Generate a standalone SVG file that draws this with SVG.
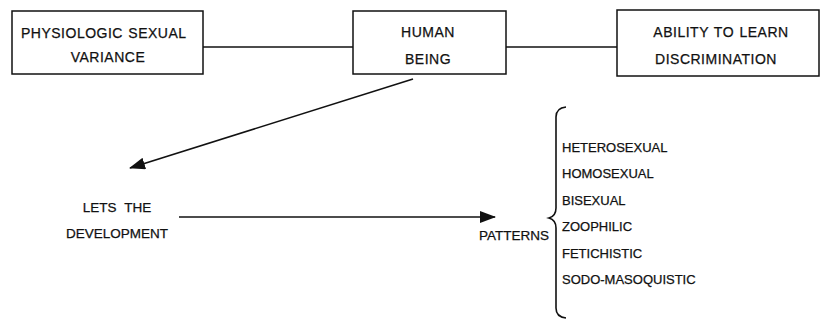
<svg xmlns="http://www.w3.org/2000/svg" width="822" height="321" viewBox="0 0 822 321">
<style>
text{font-family:"Liberation Sans",Arial,sans-serif;font-size:13.5px;fill:#111;stroke:#111;stroke-width:0.25}
.t{font-size:14px;letter-spacing:0.5px}
.l{font-size:13px}
.box{fill:#fff;stroke:#111;stroke-width:1.5}
.ln{fill:none;stroke:#111;stroke-width:1.6}
.c{text-anchor:middle}
</style>
<defs>
<marker id="ah" viewBox="0 0 16 12" refX="15" refY="6" markerWidth="16" markerHeight="12" markerUnits="userSpaceOnUse" orient="auto">
<path d="M0,0 L16,6 L0,12 z" fill="#111"/>
</marker>
</defs>
<rect width="822" height="321" fill="#fff"/>
<g id="connectors">
<line class="ln" x1="203" y1="47" x2="353" y2="47"/>
<line class="ln" x1="506" y1="47" x2="617" y2="47"/>
<line class="ln" x1="413" y1="79" x2="130" y2="168" marker-end="url(#ah)"/>
<line class="ln" x1="179" y1="217" x2="495" y2="217" marker-end="url(#ah)"/>
<path class="ln" d="M566,107 Q556,108 556,117 L556,208 Q556,216 549,218 Q556,220 556,228 L556,308 Q556,317 566,318"/>
</g>
<g id="n1">
<rect class="box" x="12" y="11" width="191" height="63"/>
<text class="t" x="21" y="38" word-spacing="1">PHYSIOLOGIC SEXUAL</text>
<text class="t c" x="108" y="62">VARIANCE</text>
</g>
<g id="n2">
<rect class="box" x="353" y="11" width="153" height="63"/>
<text class="t c" x="428" y="37">HUMAN</text>
<text class="t c" x="428" y="64">BEING</text>
</g>
<g id="n3">
<rect class="box" x="617" y="10" width="202" height="66"/>
<text class="t c" x="721" y="37" word-spacing="1">ABILITY TO LEARN</text>
<text class="t c" x="716" y="64" letter-spacing="1.5">DISCRIMINATION</text>
</g>
<g id="n4">
<text class="c" x="117" y="212" word-spacing="4">LETS THE</text>
<text class="c" x="117" y="238">DEVELOPMENT</text>
</g>
<g id="n5">
<text x="479" y="240">PATTERNS</text>
</g>
<g id="n6">
<text class="l" x="562" y="152">HETEROSEXUAL</text>
<text class="l" x="562" y="178">HOMOSEXUAL</text>
<text class="l" x="562" y="205">BISEXUAL</text>
<text class="l" x="562" y="231">ZOOPHILIC</text>
<text class="l" x="562" y="258">FETICHISTIC</text>
<text class="l" x="562" y="284">SODO-MASOQUISTIC</text>
</g>
</svg>
